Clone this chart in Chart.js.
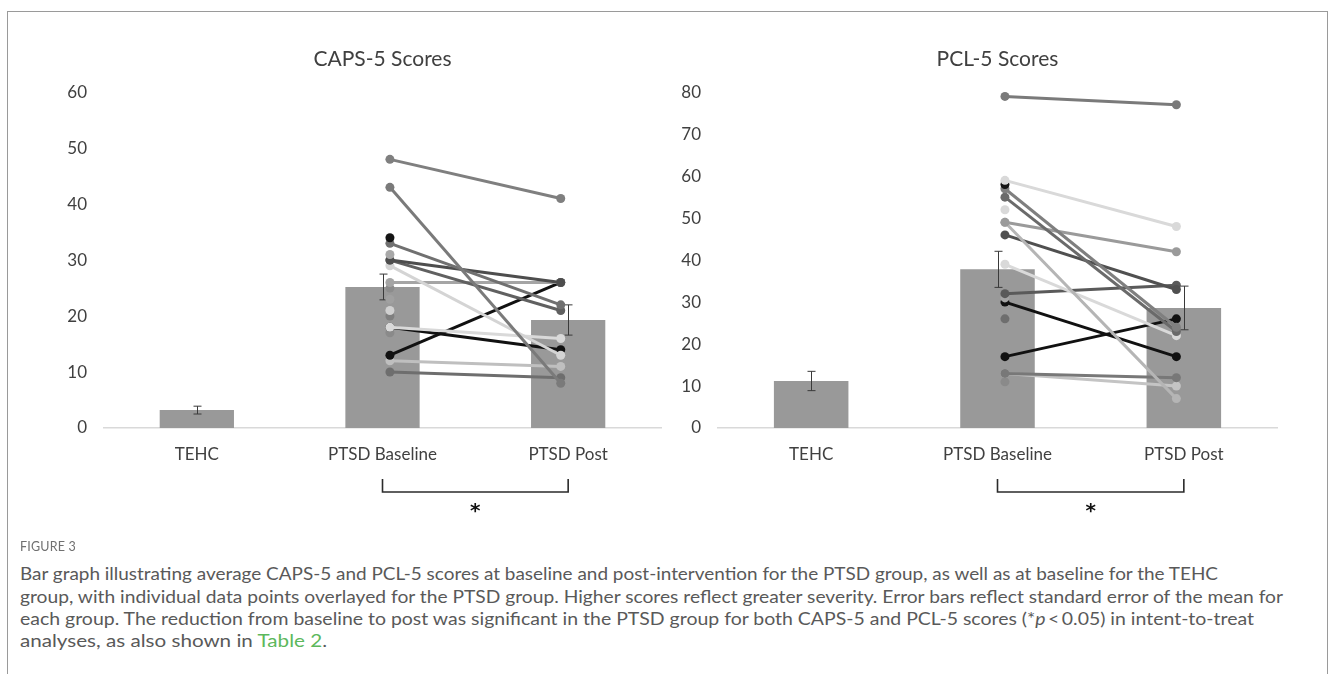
<!DOCTYPE html>
<html><head><meta charset="utf-8">
<script src="https://cdn.jsdelivr.net/npm/chart.js@4.4.1/dist/chart.umd.min.js"></script>
<style>
html,body{margin:0;padding:0;background:#fff;}
#wrap{position:relative;width:1333px;height:674px;overflow:hidden;background:#fff;}
#frame{position:absolute;left:7px;top:11px;width:1321px;height:720px;border:1px solid #9a9a9a;box-sizing:border-box;}
canvas{position:absolute;top:0;}
#c1{left:0;}
#c2{left:640px;}
.cap{position:absolute;left:20px;white-space:nowrap;transform-origin:0 50%;color:#595959;font-family:Lato,sans-serif;font-size:17px;line-height:20px;}
#fig{position:absolute;left:20px;top:539px;font-family:Lato,sans-serif;font-size:12.5px;color:#707070;letter-spacing:0.2px;}
</style></head>
<body><div id="wrap">
<div id="frame"></div>
<canvas id="c1" width="680" height="540"></canvas>
<canvas id="c2" width="693" height="540"></canvas>
<div id="fig">FIGURE 3</div>
<div class="cap" style="top:564px" data-w="1198">Bar graph illustrating average CAPS-5 and PCL-5 scores at baseline and post-intervention for the PTSD group, as well as at baseline for the TEHC</div>
<div class="cap" style="top:587px" data-w="1263">group, with individual data points overlayed for the PTSD group. Higher scores reflect greater severity. Error bars reflect standard error of the mean for</div>
<div class="cap" style="top:609px" data-w="1234">each group. The reduction from baseline to post was significant in the PTSD group for both CAPS-5 and PCL-5 scores (*<i>p</i>&thinsp;&lt;&thinsp;0.05) in intent-to-treat</div>
<div class="cap" style="top:631px" data-w="307">analyses, as also shown in <span style="color:#5cb85c">Table 2</span>.</div>
</div>
<script>
// ---- data ----
const categories = ['TEHC', 'PTSD Baseline', 'PTSD Post'];
const capsMeans = [3.2, 25.2, 19.3];
const capsSEM = [0.7, 2.3, 2.7];
const pclMeans = [11.2, 37.8, 28.6];
const pclSEM = [2.3, 4.3, 5.2];
const capsTicks = [0, 10, 20, 30, 40, 50, 60];
const pclTicks = [0, 10, 20, 30, 40, 50, 60, 70, 80];
// individual PTSD participants (baseline -> post; null = no post score)
const capsBaseline = [48, 43, 34, 33, 31, 30, 30, 29, 26, 25, 23, 21, 20, 18, 18, 17, 13, 12, 10];
const capsPost     = [41, 8, null, 22, null, 26, 21, 13, 26, null, null, null, null, 16, 14, null, 26, 11, 9];
const pclBaseline  = [79, 59, 58, 57, 55, 52, 49, 49, 46, 39, 32, 31, 30, 26, 17, 13, 13, 11];
const pclPost      = [77, 48, null, 24, 23, null, 42, 7, 33, 22, 34, null, 17, null, 26, 12, 10, null];

// ---- styles ----
const capsShades = ['#7f7f7f','#7a7a7a','#141414','#707070','#a8a8a8','#4d4d4d','#606060','#d4d4d4','#a5a5a5','#8c8c8c','#a0a0a0','#d0d0d0','#7f7f7f','#d9d9d9','#111111','#8a8a8a','#111111','#bfbfbf','#6e6e6e'];
const pclShades  = ['#7a7a7a','#d9d9d9','#141414','#7f7f7f','#6a6a6a','#d9d9d9','#9a9a9a','#b5b5b5','#505050','#d9d9d9','#5a5a5a','#a5a5a5','#111111','#6e6e6e','#111111','#787878','#c4c4c4','#8a8a8a'];
const JIT = 0.04;
const BAR = '#999999';
const TXT = '#404040';
const FONT = 'Lato';

function subjectSets(base, post, shades) {
  return base.map((b, i) => {
    const pts = [{x: 1 + JIT, y: b}];
    if (post[i] !== null) pts.push({x: 2 - JIT, y: post[i]});
    return {
      type: 'line', xAxisID: 'x2', yAxisID: 'y', data: pts,
      borderColor: shades[i], backgroundColor: shades[i],
      pointBackgroundColor: shades[i], pointBorderColor: shades[i],
      borderWidth: 3, pointRadius: 4.5, pointBorderWidth: 0, pointHoverRadius: 0,
      order: 1, clip: false
    };
  });
}

const errPlugin = {
  id: 'errbars',
  afterDatasetDraw(chart, args, opts) {
    if (args.index !== 0) return;
    const ctx = chart.ctx, y = chart.scales.y, x = chart.scales.x;
    ctx.save();
    ctx.strokeStyle = '#3a3a3a'; ctx.lineWidth = 1;
    opts.means.forEach((m, i) => {
      const px = Math.round(x.getPixelForTick(i)) + 0.5;
      const t = y.getPixelForValue(m + opts.sem[i]), b = y.getPixelForValue(m - opts.sem[i]);
      ctx.beginPath();
      ctx.moveTo(px, t); ctx.lineTo(px, b);
      ctx.moveTo(px - 4, t); ctx.lineTo(px + 4, t);
      ctx.moveTo(px - 4, b); ctx.lineTo(px + 4, b);
      ctx.stroke();
    });
    ctx.restore();
  }
};

const bracketPlugin = {
  id: 'bracket',
  afterDraw(chart) {
    const ctx = chart.ctx, x = chart.scales.x, ca = chart.chartArea;
    const x1 = x.getPixelForTick(1), x2 = x.getPixelForTick(2);
    const yt = ca.bottom + 51, yb = ca.bottom + 64;
    ctx.save();
    ctx.strokeStyle = '#2b2b2b'; ctx.lineWidth = 1.6;
    ctx.beginPath();
    ctx.moveTo(x1, yt); ctx.lineTo(x1, yb); ctx.lineTo(x2, yb); ctx.lineTo(x2, yt);
    ctx.stroke();
    ctx.fillStyle = '#111';
    ctx.font = 'bold 20px "DejaVu Sans"';
    ctx.textAlign = 'center'; ctx.textBaseline = 'middle';
    ctx.fillText('*', (x1 + x2) / 2, ca.bottom + 84);
    ctx.restore();
  }
};

function makeChart(id, title, means, sem, ticks, base, post, shades, yWidth, padRight) {
  const datasets = [{
    type: 'bar', label: title, data: means, backgroundColor: BAR, grouped: false,
    barPercentage: 0.4, categoryPercentage: 1.0, order: 10, xAxisID: 'x', yAxisID: 'y'
  }].concat(subjectSets(base, post, shades));
  return new Chart(document.getElementById(id), {
    type: 'bar',
    data: {labels: categories, datasets},
    plugins: [errPlugin, bracketPlugin],
    options: {
      responsive: false, animation: false, events: [],
      layout: {padding: {left: 0, right: padRight, top: 0, bottom: 0}},
      plugins: {
        legend: {display: false}, tooltip: {enabled: false},
        title: {display: true, text: title, fullSize: false, color: TXT,
          font: {family: FONT, size: 21, weight: 'normal', lineHeight: 1.2},
          padding: {top: 47, bottom: 20}},
        errbars: {means, sem}
      },
      scales: {
        x: {type: 'category', offset: true,
          grid: {display: false, drawTicks: false},
          border: {display: true, color: '#d9d9d9', width: 1.5},
          ticks: {color: TXT, font: {family: FONT, size: 17}, padding: 16, maxRotation: 0, autoSkip: false},
          afterFit: s => { s.height = 112; }},
        x2: {type: 'linear', display: false, min: -0.5, max: 2.5, offset: false, position: 'bottom'},
        y: {type: 'linear', min: ticks[0], max: ticks[ticks.length - 1],
          afterBuildTicks: s => { s.ticks = ticks.map(v => ({value: v})); },
          grid: {display: false, drawTicks: false}, border: {display: false},
          ticks: {color: TXT, font: {family: FONT, size: 17}, padding: 17},
          afterFit: s => { s.width = yWidth; }}
      }
    }
  });
}

function fitCaption() {
  document.querySelectorAll('.cap').forEach(el => {
    el.style.transform = 'none';
    const w = el.getBoundingClientRect().width;
    el.style.transform = 'scaleX(' + (parseFloat(el.dataset.w) / w) + ')';
  });
}

function build() {
  makeChart('c1', 'CAPS-5 Scores', capsMeans, capsSEM, capsTicks, capsBaseline, capsPost, capsShades, 104, 19);
  makeChart('c2', 'PCL-5 Scores', pclMeans, pclSEM, pclTicks, pclBaseline, pclPost, pclShades, 78, 56);
  fitCaption();
}
if (document.fonts && document.fonts.load) {
  Promise.all([document.fonts.load('17px Lato'), document.fonts.load('bold 20px "DejaVu Sans"')]).then(build, build);
} else build();
</script>
</body></html>
